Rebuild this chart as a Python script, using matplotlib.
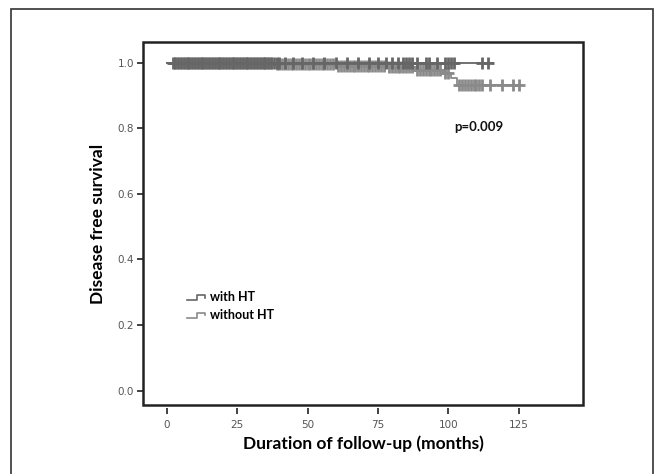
import numpy as np
import matplotlib
matplotlib.use("Agg")
import matplotlib.pyplot as plt
from matplotlib.lines import Line2D
from matplotlib.patches import Rectangle
from matplotlib.legend_handler import HandlerBase

# Kaplan-Meier steps: (time in months, survival after step)
with_ht_times = [0, 66]
with_ht_surv = [1.0, 0.998]
without_ht_times = [0, 38, 60, 78, 88, 98, 101, 103]
without_ht_surv = [1.0, 0.995, 0.991, 0.986, 0.978, 0.968, 0.952, 0.932]

# censored follow-up times (months)
with_ht_cens = [2, 3, 4, 5, 6, 7, 8, 9, 10, 11, 12, 13, 14, 15, 16, 17, 18, 19, 20,
                21, 22, 23, 24, 25, 26, 27, 28, 29, 30, 31, 32, 33, 34, 35, 36, 37,
                38, 39, 40, 42, 45, 48, 52, 56, 60, 64, 68, 72, 75, 78, 80, 82, 84,
                85, 86, 87, 89, 92, 93, 96, 99, 100, 101, 102, 112, 114]
without_ht_cens = [3, 4, 5, 6, 7, 8, 9, 10, 11, 12, 13, 14, 15, 16, 17, 18, 19, 20,
                   21, 22, 23, 24, 25, 26, 27, 28, 29, 30, 31, 32, 33, 34, 35, 36,
                   37, 39, 40, 41, 42, 43, 44, 45, 46, 47, 48, 49, 50, 51, 52, 53,
                   54, 55, 56, 57, 58, 59, 61, 62, 63, 64, 65, 66, 67, 68, 69, 70,
                   71, 72, 73, 74, 75, 76, 77, 79, 80, 81, 82, 83, 84, 85, 86, 87,
                   89, 90, 91, 92, 93, 94, 95, 96, 97, 99, 100, 104, 105, 106, 107,
                   108, 109, 110, 111, 112, 115, 119, 123, 125]
with_ht_end = 116
without_ht_end = 126

labels = ["with HT", "without HT"]
colors = ["#666666", "#8a8a8a"]
xticks = [0, 25, 50, 75, 100, 125]
yticks = [0.0, 0.2, 0.4, 0.6, 0.8, 1.0]

fig = plt.figure(figsize=(6.59, 4.74), dpi=100)
ax = fig.add_axes([0.217, 0.1456, 0.668, 0.7658])

def surv_at(times, surv, t):
    idx = np.searchsorted(times, t, side="right") - 1
    return np.array(surv)[idx]

groups = [(with_ht_times, with_ht_surv, with_ht_cens, with_ht_end),
          (without_ht_times, without_ht_surv, without_ht_cens, without_ht_end)]
handles = []
for k, (t, s, c, end) in enumerate(groups):
    tt = list(t) + [end]
    ss = list(s) + [s[-1]]
    ax.step(tt, ss, where="post", color=colors[k], lw=1.3, zorder=3 - k)
    ax.plot(c, surv_at(t, s, c), ls="none", marker="+", ms=8.5, mew=2.0,
            color=colors[k], zorder=3 - k)
    handles.append(Line2D([], [], color=colors[k], lw=1.2))

class StepHandler(HandlerBase):
    def create_artists(self, legend, orig_handle, xdescent, ydescent,
                       width, height, fontsize, trans):
        xs = np.array([0, 0.5, 0.5, 0.9, 0.9]) * width - xdescent
        ys = np.array([0.15, 0.15, 0.75, 0.75, 0.45]) * height - ydescent
        ln = Line2D(xs, ys, color=orig_handle.get_color(), lw=1.2)
        ln.set_transform(trans)
        return [ln]

leg = ax.legend(handles, labels, handler_map={Line2D: StepHandler()},
                loc="upper left", bbox_to_anchor=(0.085, 0.33), frameon=False,
                handlelength=1.6, handletextpad=0.3, labelspacing=0.45,
                borderpad=0, prop={"family": "Lato", "weight": "bold", "size": 9})

ax.text(102.3, 0.805, "p=0.009", fontsize=9.5, fontweight="bold",
        family="Lato", va="center", ha="left", color="#111")

ax.set_xlim(-8.5, 148)
ax.set_ylim(-0.044, 1.063)
ax.set_xticks(xticks)
ax.set_yticks(yticks)
ax.set_xticklabels([str(v) for v in xticks])
ax.set_yticklabels(["%.1f" % v for v in yticks])

for sp in ax.spines.values():
    sp.set_visible(False)
ax.spines["bottom"].set_position(("outward", 2.5))
ax.add_patch(Rectangle((0, 0), 1, 1, transform=ax.transAxes, fill=False,
                       lw=1.8, edgecolor="#222", zorder=5, clip_on=False))
ax.tick_params(axis="both", length=4.5, width=1.3, color="#333",
               labelsize=7.5, labelcolor="#555", pad=4)
ax.tick_params(axis="y", pad=2)

ax.set_xlabel("Duration of follow-up (months)", fontsize=12.5, fontweight="bold",
              family="Lato", labelpad=4)
ax.set_ylabel("Disease free survival", fontsize=12.5, fontweight="bold",
              family="Lato", labelpad=8)

fig.patches.append(Rectangle((11 / 659, -0.1), 642 / 659, 1.1 - 9 / 474,
                             transform=fig.transFigure, fill=False, lw=1.2,
                             edgecolor="#333"))

fig.savefig("out.png", dpi=100)
